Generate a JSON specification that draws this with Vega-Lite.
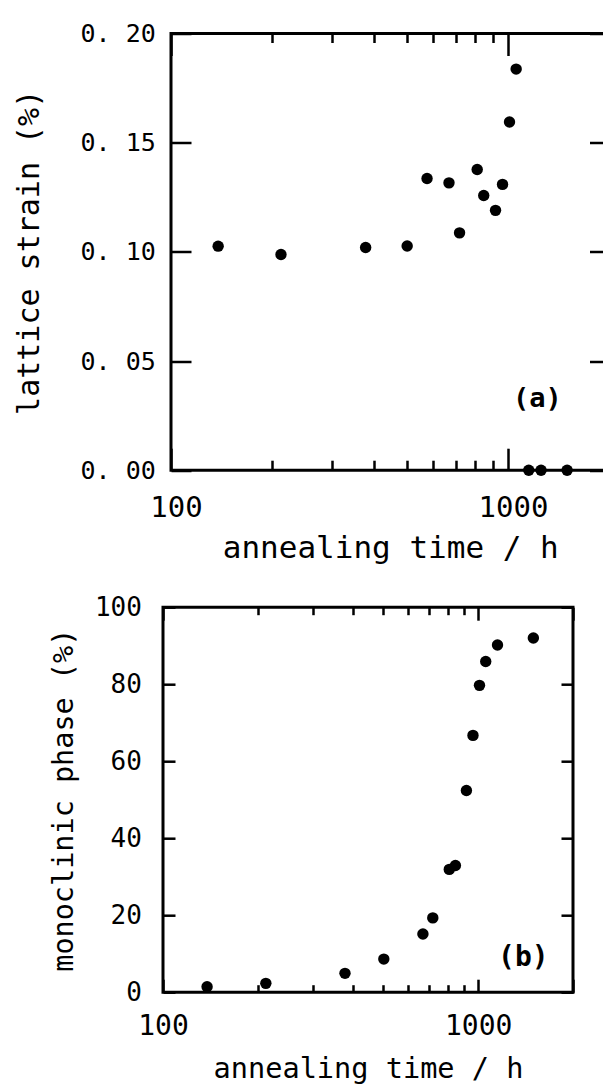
{
  "$schema": "https://vega.github.io/schema/vega-lite/v6.json",
  "padding": {"left": 0, "top": 19.5, "right": 0, "bottom": 0},
  "background": "white",
  "config": {
    "view": {"stroke": "black", "strokeWidth": 3},
    "font": "DejaVu Sans Mono",
    "axis": {"domain": false, "grid": false, "tickColor": "black", "tickWidth": 2.5, "labelColor": "black", "titleColor": "black", "labelFont": "DejaVu Sans Mono", "titleFont": "DejaVu Sans Mono", "titleFontWeight": "normal", "labelFlush": false, "labelOverlap": false, "labelBound": false}
  },
  "datasets": {
    "strain": [
      {"t": 138, "v": 0.1026}, {"t": 212, "v": 0.0988}, {"t": 378, "v": 0.102}, {"t": 502, "v": 0.1027},
      {"t": 575, "v": 0.1336}, {"t": 668, "v": 0.1316}, {"t": 718, "v": 0.1087}, {"t": 810, "v": 0.1377},
      {"t": 847, "v": 0.1258}, {"t": 918, "v": 0.119}, {"t": 963, "v": 0.1309}, {"t": 1010, "v": 0.1595},
      {"t": 1057, "v": 0.1837}, {"t": 1152, "v": 0}, {"t": 1253, "v": 0}, {"t": 1497, "v": 0}
    ],
    "mono": [
      {"t": 138, "v": 1.4}, {"t": 212, "v": 2.3}, {"t": 378, "v": 4.9}, {"t": 502, "v": 8.6},
      {"t": 668, "v": 15.1}, {"t": 718, "v": 19.3}, {"t": 810, "v": 31.9}, {"t": 847, "v": 32.9},
      {"t": 918, "v": 52.4}, {"t": 963, "v": 66.7}, {"t": 1010, "v": 79.7}, {"t": 1057, "v": 85.9},
      {"t": 1152, "v": 90.2}, {"t": 1497, "v": 92.0}
    ],
    "annA": [{"t": 1222, "v": 0.0326, "label": "(a)"}],
    "annB": [{"t": 1391, "v": 8.96, "label": "(b)"}],
    "spacer": [{"t": 1}]
  },
  "concat": [
    {
      "hconcat": [
        {
          "width": 10.3,
          "height": 10,
          "view": {"stroke": "white", "strokeWidth": 1},
          "data": {"name": "spacer"},
          "mark": {"type": "point", "opacity": 0},
          "encoding": {}
        },
        {
          "width": 438.5,
          "height": 436.7,
          "data": {"name": "strain"},
          "layer": [
            {
              "mark": {"type": "circle", "size": 130, "color": "black", "opacity": 1},
              "encoding": {
                "x": {"field": "t", "type": "quantitative", "scale": {"type": "log", "domain": [100, 2000], "nice": false},
                  "axis": {"orient": "bottom", "values": [100, 200, 300, 400, 500, 600, 700, 800, 900, 1000, 2000],
                    "tickSize": {"condition": {"test": "datum.value == 100 || datum.value == 1000 || datum.value == 2000", "value": -22}, "value": -10},
                    "labelExpr": "datum.value == 100 ? '100' : datum.value == 1000 ? '1000' : ''",
                    "labelFontSize": 29, "labelPadding": 45.7, "labelOffset": 5,
                    "title": "annealing time / h", "titleFontSize": 31, "titlePadding": -1}},
                "y": {"field": "v", "type": "quantitative", "scale": {"domain": [0, 0.2], "nice": false},
                  "axis": {"orient": "left", "values": [0, 0.05, 0.1, 0.15, 0.2], "tickSize": -20,
                    "labelExpr": "replace(format(datum.value, '.2f'), '.', '. ')",
                    "labelFontSize": 25, "labelPadding": 35.7,
                    "title": "lattice strain (%)", "titleFontSize": 30, "titlePadding": 36}}
              }
            },
            {
              "mark": {"type": "circle", "opacity": 0},
              "encoding": {
                "x": {"field": "t", "type": "quantitative", "scale": {"type": "log", "domain": [100, 2000], "nice": false},
                  "axis": {"orient": "top", "values": [100, 200, 300, 400, 500, 600, 700, 800, 900, 1000, 2000],
                    "tickSize": {"condition": {"test": "datum.value == 100 || datum.value == 1000 || datum.value == 2000", "value": -22}, "value": -9},
                    "labels": false, "title": null}},
                "y": {"field": "v", "type": "quantitative", "scale": {"domain": [0, 0.2], "nice": false},
                  "axis": {"orient": "right", "values": [0, 0.05, 0.1, 0.15, 0.2], "tickSize": -20, "labels": false, "title": null}}
              }
            },
            {
              "data": {"name": "annA"},
              "mark": {"type": "text", "font": "DejaVu Sans Mono", "fontSize": 27, "fontWeight": "bold", "color": "black", "align": "center", "baseline": "middle"},
              "encoding": {
                "x": {"field": "t", "type": "quantitative", "axis": null},
                "y": {"field": "v", "type": "quantitative", "axis": null},
                "text": {"field": "label"}
              }
            }
          ],
          "resolve": {"axis": {"x": "independent", "y": "independent"}}
        }
      ],
      "spacing": 0
    },
    {
      "hconcat": [
        {
          "width": 45.8,
          "height": 10,
          "view": {"stroke": "white", "strokeWidth": 1},
          "data": {"name": "spacer"},
          "mark": {"type": "point", "opacity": 0},
          "encoding": {}
        },
        {
          "width": 410,
          "height": 385,
          "data": {"name": "mono"},
          "layer": [
            {
              "mark": {"type": "circle", "size": 130, "color": "black", "opacity": 1},
              "encoding": {
                "x": {"field": "t", "type": "quantitative", "scale": {"type": "log", "domain": [100, 2000], "nice": false},
                  "axis": {"orient": "bottom", "values": [100, 200, 300, 400, 500, 600, 700, 800, 900, 1000, 2000],
                    "tickSize": {"condition": {"test": "datum.value == 100 || datum.value == 1000 || datum.value == 2000", "value": -13}, "value": -7.5},
                    "labelExpr": "datum.value == 100 ? '100' : datum.value == 1000 ? '1000' : ''",
                    "labelFontSize": 28, "labelPadding": 33,
                    "title": "annealing time / h", "titleFontSize": 28.6, "titlePadding": 9}},
                "y": {"field": "v", "type": "quantitative", "scale": {"domain": [0, 100], "nice": false},
                  "axis": {"orient": "left", "values": [0, 20, 40, 60, 80, 100], "tickSize": -12,
                    "labelFontSize": 26, "labelPadding": 33.6,
                    "title": "monoclinic phase (%)", "titleFontSize": 28.5, "titlePadding": 15.7}}
              }
            },
            {
              "mark": {"type": "circle", "opacity": 0},
              "encoding": {
                "x": {"field": "t", "type": "quantitative", "scale": {"type": "log", "domain": [100, 2000], "nice": false},
                  "axis": {"orient": "top", "values": [100, 200, 300, 400, 500, 600, 700, 800, 900, 1000, 2000],
                    "tickSize": {"condition": {"test": "datum.value == 100 || datum.value == 1000 || datum.value == 2000", "value": -13}, "value": -7.5},
                    "labels": false, "title": null}},
                "y": {"field": "v", "type": "quantitative", "scale": {"domain": [0, 100], "nice": false},
                  "axis": {"orient": "right", "values": [0, 20, 40, 60, 80, 100], "tickSize": -12, "labels": false, "title": null}}
              }
            },
            {
              "data": {"name": "annB"},
              "mark": {"type": "text", "font": "DejaVu Sans Mono", "fontSize": 28, "fontWeight": "bold", "color": "black", "align": "center", "baseline": "middle"},
              "encoding": {
                "x": {"field": "t", "type": "quantitative", "axis": null},
                "y": {"field": "v", "type": "quantitative", "axis": null},
                "text": {"field": "label"}
              }
            }
          ],
          "resolve": {"axis": {"x": "independent", "y": "independent"}}
        }
      ],
      "spacing": 0
    }
  ],
  "columns": 1,
  "spacing": {"row": 26.7, "column": 0},
  "align": "none"
}
